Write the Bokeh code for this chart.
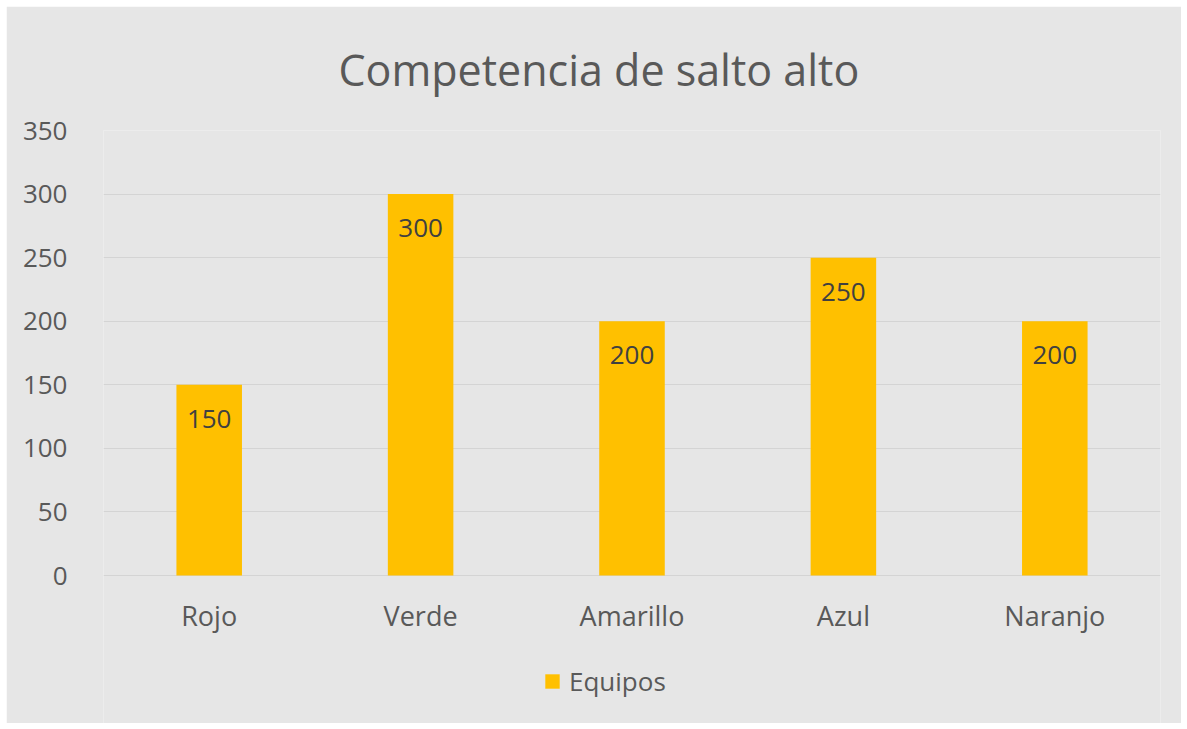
from bokeh.plotting import figure
from bokeh.models import (ColumnDataSource, Range1d, FactorRange, FixedTicker,
                          LabelSet, Legend, LegendItem, Title)
from bokeh.core.properties import value
from bokeh.embed import file_html
from bokeh.resources import INLINE

categories = ["Rojo", "Verde", "Amarillo", "Azul", "Naranjo"]
equipos = [150, 300, 200, 250, 200]
y_ticks = [0, 50, 100, 150, 200, 250, 300, 350]
series_name = "Equipos"
title_text = "Competencia de salto alto"

BG = "#e6e6e6"
BAR = "#ffc000"
TXT = "#595959"
FONT = "Open Sans"

# plot area: 445 px for 0..350, plus 148 px below zero for category labels and legend
Y_MAX = 350
PX_VALUES = 445
PX_BELOW = 148
y_min = -Y_MAX * PX_BELOW / PX_VALUES

src = ColumnDataSource(dict(cat=categories, val=equipos,
                            lbl=[str(v) for v in equipos]))

p = figure(frame_width=1057, frame_height=PX_VALUES + PX_BELOW,
           x_range=FactorRange(*categories), y_range=Range1d(y_min, Y_MAX),
           output_backend="svg", toolbar_location=None,
           background_fill_color=BG, border_fill_color=BG,
           min_border_left=97, min_border_right=21, min_border_top=124,
           min_border_bottom=0)
p.margin = (6, 6, 6, 6)
p.outline_line_color = None

r = p.vbar(x="cat", top="val", width=0.31, source=src, fill_color=BAR,
           line_color=None)

labels = LabelSet(x="cat", y="val", text="lbl", source=src, text_align="center",
                  text_baseline="middle", y_offset=-34, text_color="#404040",
                  text_font=value(FONT), text_font_size="26px")
p.add_layout(labels)

# category labels under the zero line
cat_labels = LabelSet(x="cat", y=0, text="cat", source=src, text_align="center",
                      text_baseline="middle", y_offset=-40, text_color=TXT,
                      text_font=value(FONT), text_font_size="27px")
p.add_layout(cat_labels)

t = Title(text=title_text, text_font=FONT, text_font_size="43px",
          text_color=TXT, text_font_style="normal", align="left", offset=235,
          standoff=63)
p.add_layout(t, "above")

p.xaxis.visible = False
p.yaxis.ticker = FixedTicker(ticks=y_ticks)
ax = p.yaxis[0]
ax.axis_line_color = None
ax.major_tick_line_color = None
ax.minor_tick_line_color = None
ax.major_label_text_font = FONT
ax.major_label_text_font_size = "26px"
ax.major_label_text_color = TXT
ax.major_label_standoff = 30

p.xgrid.grid_line_color = None
p.ygrid.grid_line_color = "#d4d4d4"
p.ygrid.grid_line_width = 1

legend = Legend(items=[LegendItem(label=series_name, renderers=[r])],
                orientation="horizontal", location=(440, 24),
                background_fill_alpha=0, border_line_color=None,
                label_text_font=FONT, label_text_font_size="26px",
                label_text_color=TXT, glyph_width=18, glyph_height=18,
                label_standoff=8, padding=0, margin=0)
p.add_layout(legend, "center")

open("out.html", "w").write(file_html(p, INLINE))
